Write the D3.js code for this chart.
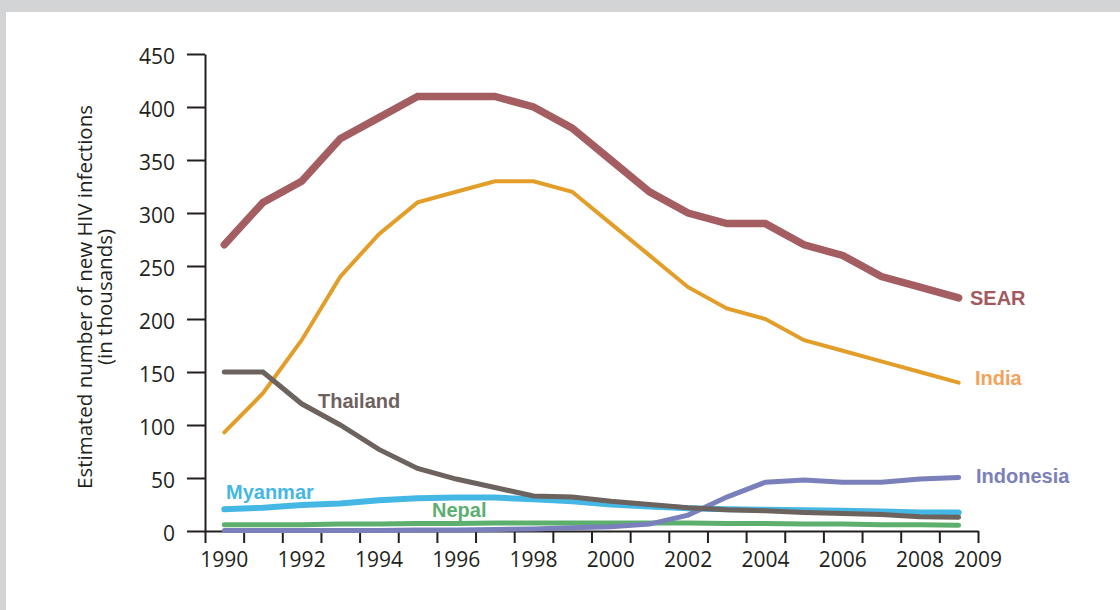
<!DOCTYPE html>
<html>
<head>
<meta charset="utf-8">
<script src="https://cdn.jsdelivr.net/npm/d3@7"></script>
<style>
    body { margin: 0; background: #d3d4d6; }
    #chart-container { position: absolute; left: 6px; top: 12px; width: 1114px; height: 598px; background: #fff; }
    svg { position: absolute; left: -6px; top: -12px; }
</style>
</head>
<body>
<div id="chart-container"></div>
<script>

let years = [1990, 1991, 1992, 1993, 1994, 1995, 1996, 1997, 1998, 1999,
             2000, 2001, 2002, 2003, 2004, 2005, 2006, 2007, 2008, 2009];

let sear = [270, 310, 330, 370, 390, 410, 410, 410, 400, 380,
            350, 320, 300, 290, 290, 270, 260, 240, 230, 220];
let india = [93, 130, 180, 240, 280, 310, 320, 330, 330, 320,
             290, 260, 230, 210, 200, 180, 170, 160, 150, 140];
let thailand = [150, 150, 120, 100, 77, 59, 49, 41, 33, 32,
                28, 25, 22, 20, 19, 17.5, 16.5, 15.5, 13.5, 13];
let myanmar = [20.5, 22, 24.5, 26, 29, 31, 31.5, 31.5, 30, 28,
               25, 23, 21.5, 20.5, 20, 19.5, 19, 18.5, 17.5, 17.5];
let nepal = [6, 6, 6, 6.5, 6.5, 7, 7, 7.5, 7.5, 7.5,
             7.5, 7.5, 7.5, 7, 7, 6.5, 6.5, 6, 6, 5.5];
let indonesia = [0.5, 0.5, 0.5, 0.5, 0.5, 1, 1, 1.5, 2, 3,
                 4, 6.5, 15, 32, 46, 48, 46, 46, 49, 50.5];

let yTicks = [0, 50, 100, 150, 200, 250, 300, 350, 400, 450];
let xLabelYears = [1990, 1992, 1994, 1996, 1998, 2000, 2002, 2004, 2006, 2008];

let w = 1120;
let h = 610;

const svg = d3.select("#chart-container")
    .append("svg")
    .attr("width", w)
    .attr("height", h);

let xScale = d3.scaleLinear()
    .domain([1989.5, 2009.5])
    .range([205, 978]);

let yScale = d3.scaleLinear()
    .domain([0, 450])
    .range([531, 54]);

// x axis: ticks on the year boundaries, labels drawn separately
let boundaries = d3.range(1989.5, 2010, 1);
const xAxis = d3.axisBottom(xScale)
    .tickValues(boundaries)
    .tickSize(12)
    .tickSizeOuter(0)
    .tickFormat("");

svg.append("g")
    .attr("id", "x-axis")
    .attr("transform", "translate(0," + 531 + ")")
    .call(xAxis);

const yAxis = d3.axisLeft(yScale)
    .tickValues(yTicks)
    .tickSize(18)
    .tickSizeOuter(0)
    .tickPadding(12);

svg.append("g")
    .attr("id", "y-axis")
    .attr("transform", "translate(" + 205 + ",0)")
    .call(yAxis);

svg.selectAll(".domain, .tick line")
    .attr("stroke", "#231f20")
    .attr("stroke-width", 2);

svg.selectAll("#y-axis text")
    .attr("font-family", "'Open Sans', sans-serif")
    .attr("font-size", 21)
    .attr("fill", "#231f20")
    .attr("dy", "0.45em");

svg.append("g")
    .selectAll("text")
    .data(xLabelYears)
    .enter()
    .append("text")
    .attr("x", (d) => xScale(d))
    .attr("y", 567)
    .attr("text-anchor", "middle")
    .attr("font-family", "'Open Sans', sans-serif")
    .attr("font-size", 21)
    .attr("fill", "#231f20")
    .text((d) => d);

svg.append("text")
    .attr("x", xScale(2009.5))
    .attr("y", 567)
    .attr("text-anchor", "middle")
    .attr("font-family", "'Open Sans', sans-serif")
    .attr("font-size", 21)
    .attr("fill", "#231f20")
    .text("2009");

// y axis title, two lines
let yTitle = svg.append("text")
    .attr("transform", "translate(92,297) rotate(-90)")
    .attr("text-anchor", "middle")
    .attr("font-family", "'Open Sans', sans-serif")
    .attr("font-size", 20.5)
    .attr("fill", "#231f20");

yTitle.append("tspan")
    .attr("x", 0)
    .attr("y", 0)
    .text("Estimated number of new HIV infections");

yTitle.append("tspan")
    .attr("x", 0)
    .attr("y", 20)
    .text("(in thousands)");

let line = d3.line()
    .x((d, i) => xScale(years[i]))
    .y((d) => yScale(d));

let series = [
    { name: "Nepal", values: nepal, color: "#5daf6e", width: 5 },
    { name: "Myanmar", values: myanmar, color: "#45b7e4", width: 6 },
    { name: "Indonesia", values: indonesia, color: "#7a80bb", width: 5 },
    { name: "India", values: india, color: "#e39e2a", width: 4 },
    { name: "Thailand", values: thailand, color: "#6c625e", width: 5 },
    { name: "SEAR", values: sear, color: "#a45e62", width: 7.5 }
];

svg.append("g")
    .selectAll("path")
    .data(series)
    .enter()
    .append("path")
    .attr("d", (d) => line(d.values))
    .attr("fill", "none")
    .attr("stroke", (d) => d.color)
    .attr("stroke-width", (d) => d.width)
    .attr("stroke-linejoin", "miter")
    .attr("stroke-linecap", "round");

let labels = [
    { text: "SEAR", x: 970, y: 305, color: "#a3595e" },
    { text: "India", x: 975, y: 385, color: "#f3a25b" },
    { text: "Indonesia", x: 976, y: 483, color: "#7b80bb" },
    { text: "Thailand", x: 318, y: 408, color: "#6e625f" },
    { text: "Myanmar", x: 226, y: 499, color: "#44b7e5" },
    { text: "Nepal", x: 432, y: 517, color: "#5caf6f" }
];

svg.append("g")
    .selectAll("text")
    .data(labels)
    .enter()
    .append("text")
    .attr("x", (d) => d.x)
    .attr("y", (d) => d.y)
    .attr("font-family", "'Liberation Sans', Arial, sans-serif")
    .attr("font-weight", "bold")
    .attr("font-size", 20)
    .attr("fill", (d) => d.color)
    .text((d) => d.text);

</script>
</body>
</html>
